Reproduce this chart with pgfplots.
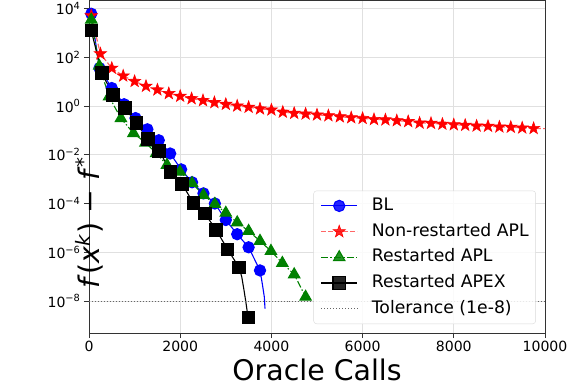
\documentclass[border=0pt]{standalone}
\usepackage{fontspec}
\setmainfont{DejaVu Sans}
\usepackage{pgfplots}
\pgfplotsset{compat=1.18}
\definecolor{mplgreen}{RGB}{0,128,0}
\pgfdeclareplotmark{fstar}{%
  \pgfpathmoveto{\pgfqpointpolar{90}{\pgfplotmarksize}}%
  \pgfpathlineto{\pgfqpointpolar{126}{0.4\pgfplotmarksize}}%
  \pgfpathlineto{\pgfqpointpolar{162}{\pgfplotmarksize}}%
  \pgfpathlineto{\pgfqpointpolar{198}{0.4\pgfplotmarksize}}%
  \pgfpathlineto{\pgfqpointpolar{234}{\pgfplotmarksize}}%
  \pgfpathlineto{\pgfqpointpolar{270}{0.4\pgfplotmarksize}}%
  \pgfpathlineto{\pgfqpointpolar{306}{\pgfplotmarksize}}%
  \pgfpathlineto{\pgfqpointpolar{342}{0.4\pgfplotmarksize}}%
  \pgfpathlineto{\pgfqpointpolar{18}{\pgfplotmarksize}}%
  \pgfpathlineto{\pgfqpointpolar{54}{0.4\pgfplotmarksize}}%
  \pgfpathclose
  \pgfusepathqfillstroke
}
\begin{document}
\begin{tikzpicture}
\useasboundingbox (-89bp,-56bp) rectangle (479bp,333bp);
\begin{axis}[
  at={(0,0)}, anchor=south west,
  scale only axis, width=456bp, height=333bp,
  xmin=0, xmax=10000, ymode=log, ymin=4.9e-10, ymax=2.2e4,
  xtick={0,2000,4000,6000,8000,10000},
  xticklabels={0,2000,4000,6000,8000,10000},
  scaled x ticks=false,
  ytick={1e-8,1e-6,1e-4,1e-2,1,1e2,1e4},
  yticklabels={10\textsuperscript{−8},10\textsuperscript{−6},10\textsuperscript{−4},10\textsuperscript{−2},10\textsuperscript{0},10\textsuperscript{2},10\textsuperscript{4}},
  yminorticks=false,
  xtick pos=left, ytick pos=left,
  tick align=outside, major tick length=5bp,
  tick style={black!80, line width=0.8bp},
  axis line style={black!80, line width=0.8bp},
  grid=major, major grid style={black!12, line width=0.8bp},
  tick label style={font=\fontsize{14.1}{16}\selectfont},
  xlabel={Oracle Calls},
  ylabel={\textit{f}(\textit{x}\textsuperscript{\textit{k}}) − \textit{f}\textsuperscript{*}},
  every axis x label/.style={at={(rel axis cs:0.5,0)}, anchor=center, yshift=-37bp, font=\fontsize{28.5}{32}\selectfont},
  every axis y label/.style={at={(rel axis cs:0,0.5)}, rotate=90, anchor=center, xshift=-56bp, font=\fontsize{28.5}{32}\selectfont},
  legend style={at={(0.980,0.027)}, anchor=south east, font=\fontsize{17.3}{20}\selectfont,
    draw=black!15, rounded corners=3bp, fill=white, fill opacity=0.85, text opacity=1,
    row sep=5bp, inner xsep=7bp, inner ysep=4.75bp, column sep=14bp,
    nodes={text height=13bp, text depth=3.7bp, inner ysep=2bp, inner xsep=0bp}},
  legend cell align=left,
  legend image code/.code={\draw[sharp corners, mark repeat=2, mark phase=2] plot coordinates {(0bp,0bp) (18bp,0bp) (36bp,0bp)};},
]
% BL
\addplot[blue, line width=1.1bp, mark=*, mark size=5.6bp, mark options={solid, fill=blue}, mark indices={1,2,3,4,5,6,7,8,9,10,11,12,13,14,15,16}, legend image post style={mark indices={2}}] coordinates {
(50,6.0e3) (230,35.5) (500,5.4) (770,1.17) (1020,0.316) (1280,0.11) (1530,0.039) (1780,0.0112)
(2020,2.5e-3) (2260,7.4e-4) (2510,2.6e-4) (2760,1.0e-4) (3000,2.1e-5) (3250,5.5e-6) (3500,1.6e-6) (3750,1.8e-7)
(3800,5.2e-8) (3844,1.5e-8) (3860,4.9e-9)
};
\addlegendentry{BL}
% Non-restarted APL
\addplot[red!60, dash pattern=on 5bp off 2.2bp, line width=1.2bp, mark=fstar, mark size=6.4bp, mark options={solid, draw=red, fill=red, line width=0.6bp}, mark indices={1,2,3,4,5,6,7,8,9,10,11,12,13,14,15,16,17,18,19,20,21,22,23,24,25,26,27,28,29,30,31,32,33,34,35,36,37,38,39,40}, legend image post style={mark indices={2}}] coordinates {
(50,5.0e3) (250,138) (500,35.5) (750,17.0) (1000,10.2) (1250,6.46) (1500,4.57) (1750,3.24) (2000,2.51)
(2250,2.0) (2500,1.66) (2750,1.38) (3000,1.17) (3250,1.0) (3500,0.89) (3750,0.76) (4000,0.69)
(4250,0.56) (4500,0.50) (4750,0.47) (5000,0.43) (5250,0.40) (5500,0.36) (5750,0.33) (6000,0.31)
(6250,0.28) (6500,0.27) (6750,0.25) (7000,0.23) (7250,0.20) (7500,0.195) (7750,0.18) (8000,0.17)
(8250,0.162) (8500,0.151) (8750,0.148) (9000,0.138) (9250,0.135) (9500,0.126) (9750,0.120) (10000,0.117)
};
\addlegendentry{Non-restarted APL}
% Restarted APL
\addplot[mplgreen, dash pattern=on 7bp off 2.2bp on 1.4bp off 2.2bp, line width=1.1bp, mark=triangle*, mark size=6.5bp, mark options={solid, fill=mplgreen}] coordinates {
(50,3.4e3) (226,43.6) (440,2.4) (700,0.31) (975,0.076) (1240,0.031) (1475,0.0115) (1710,3.8e-3)
(1995,2.0e-3) (2260,6.8e-4) (2510,2.2e-4) (2760,9.5e-5) (3000,4.1e-5) (3250,1.66e-5) (3500,7.4e-6)
(3750,2.9e-6) (3990,1.12e-6) (4240,3.6e-7) (4500,1.23e-7) (4750,1.48e-8)
};
\addlegendentry{Restarted APL}
% Restarted APEX
\addplot[black, line width=1.1bp, mark=square*, mark size=6.2bp, mark options={solid, fill=black}, mark indices={1,2,3,4,5,6,7,8,9,10,11,12,13,14,19}, legend image post style={mark indices={2}}] coordinates {
(50,1.23e3) (280,21.9) (530,2.8) (790,0.81) (1040,0.195) (1290,0.043) (1540,0.0145) (1790,2.0e-3)
(2040,6.3e-4) (2290,1.05e-4) (2540,3.9e-5) (2790,8.1e-6) (3040,1.32e-6) (3290,2.4e-7)
(3350,9.8e-8) (3400,2.75e-8) (3445,7.9e-9) (3475,3.2e-9) (3493,2.1e-9)
};
\addlegendentry{Restarted APEX}
% Tolerance
\addplot[black!60, dotted, line width=1bp] coordinates {(0,1e-8) (10000,1e-8)};
\addlegendentry{Tolerance (1e-8)}
\end{axis}
\end{tikzpicture}
\end{document}
